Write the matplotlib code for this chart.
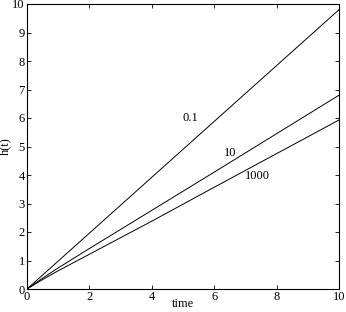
import matplotlib
matplotlib.use("Agg")
import matplotlib.pyplot as plt

t = [0, 0.5, 1, 2, 3, 4, 6, 8, 10]
h_01 = [0, 0.49, 0.98, 1.96, 2.94, 3.92, 5.88, 7.84, 9.8]
h_10 = [0, 0.38, 0.74, 1.42, 2.09, 2.76, 4.10, 5.45, 6.8]
h_1000 = [0, 0.33, 0.64, 1.22, 1.80, 2.38, 3.57, 4.75, 5.93]
labels = ["0.1", "10", "1000"]
label_pos = [(5.25, 6.0), (6.5, 4.77), (7.4, 3.97)]
xticks = [0, 2, 4, 6, 8, 10]
yticks = list(range(0, 11))

plt.rcParams['font.family'] = ['Liberation Serif', 'DejaVu Serif']
plt.rcParams['font.size'] = 9

fig = plt.figure(figsize=(3.46, 3.12), dpi=100)
ax = fig.add_axes([27/346, 1-289/312, (339-27)/346, (289-4)/312])
for y in (h_01, h_10, h_1000):
    ax.plot(t, y, color='black', lw=0.7)
for lab, (x, y) in zip(labels, label_pos):
    ax.text(x, y, lab, ha='center', va='center', fontsize=9)
ax.set_xlim(0, 10)
ax.set_ylim(0, 10)
ax.set_xticks(xticks)
ax.set_yticks(yticks)
ax.tick_params(direction='in', top=True, right=True, length=3, width=0.6, pad=1.5, labelsize=9)
for s in ax.spines.values():
    s.set_linewidth(0.8)
ax.set_xlabel('time', fontsize=9)
ax.set_ylabel('h(t)', fontsize=9)
ax.xaxis.set_label_coords(0.5, -0.032)
ax.yaxis.set_label_coords(-0.05, 0.5)
fig.savefig('out.png', dpi=100)
